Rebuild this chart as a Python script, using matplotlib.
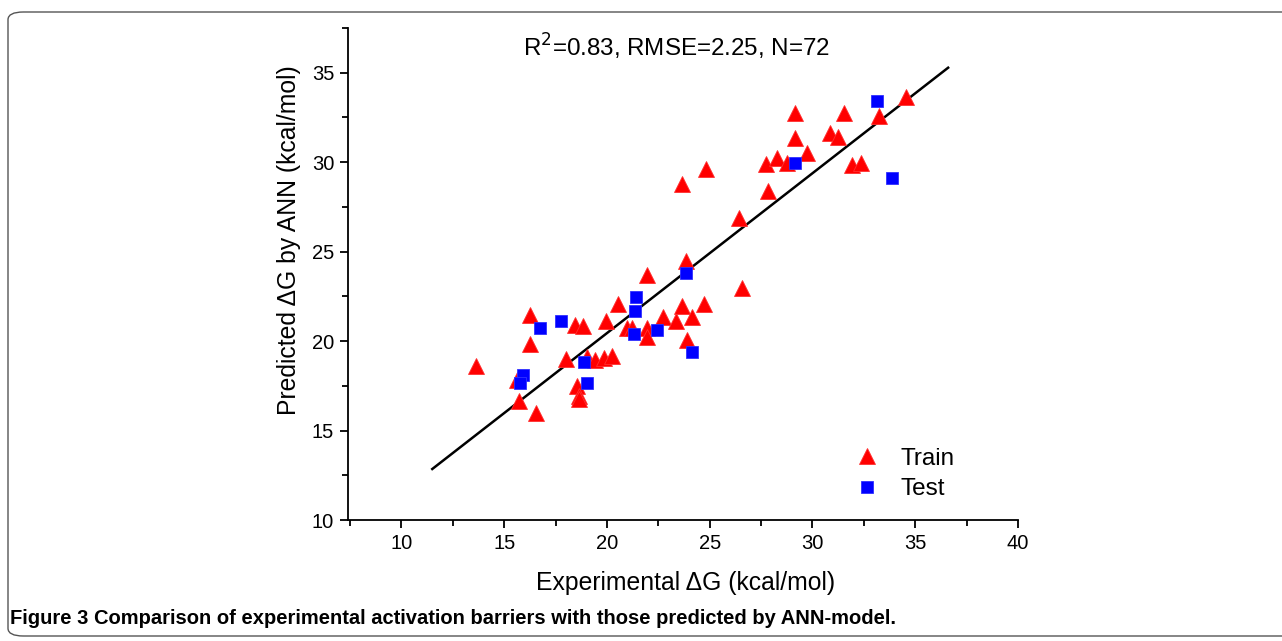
import matplotlib
matplotlib.use("Agg")
import matplotlib.pyplot as plt
import matplotlib.ticker as ticker
from matplotlib.patches import FancyBboxPatch

# training set (experimental, predicted)
train_x = [13.65, 16.27, 16.27, 15.64, 15.74, 16.56, 18.02, 18.46, 18.85, 18.56,
           18.65, 18.65, 19.04, 19.40, 19.87, 20.26, 19.97, 20.55, 20.99, 21.20,
           21.96, 21.96, 21.96, 22.74, 23.37, 23.66, 24.15, 24.73, 23.90, 23.86,
           26.58, 23.66, 24.83, 26.43, 27.84, 27.74, 28.28, 28.77, 29.15, 29.15,
           29.74, 30.86, 31.25, 31.54, 31.93, 32.36, 33.24, 34.55]
train_y = [18.61, 21.47, 19.84, 17.83, 16.66, 15.98, 19.00, 20.90, 20.85, 17.50,
           16.95, 16.75, 19.10, 18.95, 19.06, 19.17, 21.10, 22.08, 20.75, 20.75,
           23.70, 20.74, 20.23, 21.35, 21.13, 21.97, 21.35, 22.08, 20.07, 24.49,
           22.98, 28.80, 29.63, 26.89, 28.40, 29.90, 30.25, 29.97, 31.36, 32.76,
           30.53, 31.64, 31.42, 32.76, 29.85, 29.97, 32.60, 33.66]

# test set
test_x = [15.93, 15.79, 16.76, 17.78, 18.90, 19.04, 21.40, 21.35, 21.33, 22.45,
          24.15, 23.86, 29.15, 33.14, 33.87]
test_y = [18.10, 17.66, 20.74, 21.13, 18.84, 17.66, 22.45, 21.66, 20.37, 20.63,
          19.40, 23.80, 29.97, 33.43, 29.13]

# fitted line end points
fit_x = [11.5, 36.6]
fit_y = [12.85, 35.28]

plt.rcParams['font.family'] = ['Liberation Sans', 'DejaVu Sans']

fig = plt.figure(figsize=(12.82, 6.41), dpi=100)

# rounded frame around the figure
frame = FancyBboxPatch((8 / 1282, 5 / 641), 1300 / 1282, 624 / 641,
                       boxstyle="round,pad=0,rounding_size=0.012",
                       transform=fig.transFigure, fill=False,
                       edgecolor="#555555", linewidth=1.0, clip_on=False)
fig.patches.append(frame)

ax = fig.add_axes([348 / 1282, 1 - 520 / 641, 670 / 1282, 492 / 641])

ax.plot(fit_x, fit_y, color="black", linewidth=1.8, zorder=2)
ax.plot(train_x, train_y, linestyle="none", marker="^", markersize=11.5,
        color="red", markeredgecolor="#ff3030", markeredgewidth=0.6,
        label="Train", zorder=3)
ax.plot(test_x, test_y, linestyle="none", marker="s", markersize=8,
        color="blue", markeredgecolor="#3030ff", markeredgewidth=0.6,
        label="Test", zorder=4)

ax.set_xlim(7.4, 40)
ax.set_ylim(10, 37.5)
ax.xaxis.set_major_locator(ticker.MultipleLocator(5))
ax.xaxis.set_minor_locator(ticker.MultipleLocator(2.5))
ax.yaxis.set_major_locator(ticker.MultipleLocator(5))
ax.yaxis.set_minor_locator(ticker.MultipleLocator(2.5))
ax.set_xticks([10, 15, 20, 25, 30, 35, 40])

for s in ["top", "right"]:
    ax.spines[s].set_visible(False)
for s in ["left", "bottom"]:
    ax.spines[s].set_linewidth(1.3)

ax.tick_params(which="major", direction="out", length=6, width=1.3,
               labelsize=14.5, pad=4)
ax.tick_params(which="minor", direction="out", length=4, width=1.3)

ax.set_xlabel("Experimental \u0394G (kcal/mol)", fontsize=17.8)
ax.xaxis.set_label_coords(0.504, -0.103)
ax.set_ylabel("Predicted \u0394G by ANN (kcal/mol)", fontsize=17.8)
ax.yaxis.set_label_coords(-0.070, 0.569)

ax.text(0.49, 0.962, "R$^2$=0.83, RMSE=2.25, N=72", transform=ax.transAxes,
        ha="center", va="center", fontsize=17.4)

ax.legend(loc="lower right", bbox_to_anchor=(0.92, 0.02), frameon=False,
          fontsize=17.5, handletextpad=0.8, labelspacing=0.35, handlelength=1.2,
          borderaxespad=0)

fig.text(10 / 1282, 1 - 618 / 641,
         "Figure 3 Comparison of experimental activation barriers with those predicted by ANN-model.",
         family=['Liberation Sans Narrow', 'Liberation Sans', 'DejaVu Sans'],
         fontweight="bold", fontsize=14.5, ha="left", va="center")

fig.savefig("out.png", dpi=100)
